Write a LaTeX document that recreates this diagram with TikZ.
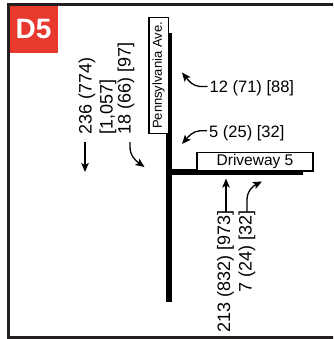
\documentclass[tikz,border=0pt]{standalone}
\usepackage{fontspec}
\setmainfont{Liberation Sans}
\usetikzlibrary{arrows.meta}
\definecolor{framegray}{HTML}{231F20}
\definecolor{dred}{HTML}{E8392F}
\begin{document}
\begin{tikzpicture}[x=1pt,y=-1pt,
  arr/.style={line width=1.3pt, -{Stealth[length=9pt,width=7.5pt,inset=2pt]}},
  lbl/.style={inner sep=0pt, font=\fontsize{16.5}{18}\selectfont},
  vlbl/.style={inner sep=0pt, rotate=90, font=\fontsize{18}{20}\selectfont},
  road/.style={line width=6pt, black},
  namebox/.style={draw=black, line width=1.4pt, fill=white, inner sep=0pt}
]
\useasboundingbox (0,0) rectangle (333,339);
\begin{scope}
\clip (0,0) rectangle (333,339);
\fill[dred] (7,4) rectangle (58,53);
\draw[framegray, line width=2.6pt] (345,4.7) -- (8.3,4.7) -- (8.3,337.3) -- (345,337.3);
\end{scope}
\node[font=\fontsize{28}{30}\selectfont\bfseries, text=white, inner sep=0pt] (d5) at (33.5,29.5) {D5};
% roads
\coordinate (vtop) at (169,33);
\coordinate (vbot) at (169,302);
\coordinate (hl) at (169,171.8);
\coordinate (hr) at (303.3,171.8);
\draw[road] (vtop) -- (vbot);
\draw[road] (hl) -- (hr);
% street names
\node[namebox, rotate=90, minimum width=116pt, minimum height=19.5pt, font=\fontsize{13}{14}\selectfont] (penn) at (158.6,75.5) {Pennsylvania Ave.};
\node[namebox, minimum width=116pt, minimum height=18.5pt, font=\fontsize{15.5}{16}\selectfont] (drive) at (255,161.8) {Driveway 5};
% volume labels
\node[lbl, anchor=base west] (t12) at (209.5,93) {12 (71) [88]};
\node[lbl, anchor=base west] (t5) at (209,137.5) {5 (25) [32]};
\node[vlbl, anchor=base west] (t236) at (91.5,135) {236 (774)};
\node[vlbl, anchor=base west] (t1057) at (112.5,135) {[1,057]};
\node[vlbl, anchor=base west] (t18) at (130.5,135) {18 (66) [97]};
\node[vlbl, anchor=base east] (t213) at (230,210) {213 (832) [973]};
\node[vlbl, anchor=base east] (t7) at (251.5,210) {7 (24) [32]};
% arrows
\coordinate (a12s) at (207.5,86.5);
\coordinate (a12e) at (182,72.5);
\draw[arr] (a12s) -- (200,86.5) .. controls (193,86.5) and (188,80) .. (a12e);
\coordinate (a5s) at (207,130.8);
\coordinate (a5e) at (182,144);
\draw[arr] (a5s) -- (200,130.8) .. controls (193,130.8) and (188,137) .. (a5e);
\coordinate (a236s) at (85,142);
\coordinate (a236e) at (85,172);
\draw[arr] (a236s) -- (a236e);
\coordinate (a18s) at (130,142);
\coordinate (a18e) at (144.5,167);
\draw[arr] (a18s) -- (130,147) .. controls (130,156) and (136,161) .. (a18e);
\coordinate (a213s) at (226,211.5);
\coordinate (a213e) at (226,178.5);
\draw[arr] (a213s) -- (a213e);
\coordinate (a7s) at (247,211.5);
\coordinate (a7e) at (262,181.5);
\draw[arr] (a7s) -- (247,200) .. controls (247,191) and (253,186) .. (a7e);
\end{tikzpicture}
\end{document}
